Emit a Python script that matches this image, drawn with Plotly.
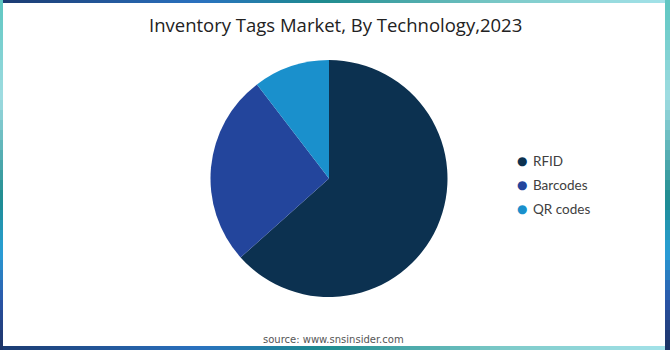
import plotly.graph_objects as go

categories = ["RFID", "Barcodes", "QR codes"]
shares = [63.4, 26.2, 10.4]
colors = ["#0c3150", "#23459c", "#1a90cc"]

title_text = "Inventory Tags Market, By Technology,2023"
source_text = "source: www.snsinsider.com"

W, H = 670, 350

fig = go.Figure()
fig.add_trace(go.Pie(
    labels=categories, values=shares, sort=False, direction="clockwise", rotation=0,
    marker=dict(colors=colors, line=dict(width=0)), textinfo="none", hoverinfo="label+percent",
    showlegend=False,
    domain=dict(x=[210.5 / W, 447.5 / W], y=[(H - 297) / H, (H - 60) / H]),
))


def lerp_color(stops, t):
    for (t0, c0), (t1, c1) in zip(stops[:-1], stops[1:]):
        if t0 <= t <= t1:
            f = (t - t0) / (t1 - t0) if t1 > t0 else 0
            a = [int(c0[i:i + 2], 16) for i in (1, 3, 5)]
            b = [int(c1[i:i + 2], 16) for i in (1, 3, 5)]
            return "rgb(%d,%d,%d)" % tuple(round(a[k] + (b[k] - a[k]) * f) for k in range(3))
    return stops[-1][1]


h_stops = [(0, "#1b3a70"), (0.3, "#2a72c0"), (0.48, "#1d8a8e"), (0.75, "#7ccac8"), (1, "#a5e3ea")]
v_stops = [(0, "#5cc5c0"), (0.28, "#a0dde2"), (0.57, "#1d8a8e"), (0.72, "#2aa0d8"), (0.86, "#2a55a8"), (1, "#1b3060")]

shapes = []
N = 67
for i in range(N):
    x0, x1 = i * W / N, (i + 1) * W / N
    col = lerp_color(h_stops, (i + 0.5) / N)
    shapes.append(dict(type="rect", xref="paper", yref="paper", x0=x0 / W, x1=x1 / W,
                       y0=(H - 3) / H, y1=1, fillcolor=col, line=dict(width=0), layer="below"))
    shapes.append(dict(type="rect", xref="paper", yref="paper", x0=x0 / W, x1=x1 / W,
                       y0=0, y1=4 / H, fillcolor=col, line=dict(width=0), layer="below"))
M = 35
for i in range(M):
    ya, yb = i * H / M, (i + 1) * H / M
    col = lerp_color(v_stops, (i + 0.5) / M)
    shapes.append(dict(type="rect", xref="paper", yref="paper", x0=0, x1=3 / W,
                       y0=1 - yb / H, y1=1 - ya / H, fillcolor=col, line=dict(width=0), layer="below"))
    shapes.append(dict(type="rect", xref="paper", yref="paper", x0=(W - 5) / W, x1=1,
                       y0=1 - yb / H, y1=1 - ya / H, fillcolor=col, line=dict(width=0), layer="below"))

annotations = [
    dict(text=title_text, x=0.5, y=1 - 24 / H, xref="paper", yref="paper", showarrow=False,
         xanchor="center", yanchor="middle",
         font=dict(family="Open Sans, sans-serif", size=18.5, color="#222222")),
    dict(text=source_text, x=333 / W, y=1 - 339 / H, xref="paper", yref="paper", showarrow=False,
         xanchor="center", yanchor="middle",
         font=dict(family="DejaVu Sans, sans-serif", size=10, color="#555555")),
]
# legend drawn as text entries
legend_y0, legend_dy = 161, 24
for i, (c, col) in enumerate(zip(categories, colors)):
    yy = 1 - (legend_y0 + i * legend_dy) / H
    annotations.append(dict(text="●", x=522 / W, y=yy, xref="paper", yref="paper", showarrow=False,
                            xanchor="center", yanchor="middle",
                            font=dict(family="DejaVu Sans, sans-serif", size=12, color=col)))
    annotations.append(dict(text=c, x=531 / W, y=yy, xref="paper", yref="paper", showarrow=False,
                            xanchor="left", yanchor="middle",
                            font=dict(family="Lato, Open Sans, sans-serif", size=13.5, color="#404040")))

fig.update_layout(
    width=W, height=H,
    margin=dict(l=0, r=0, t=0, b=0),
    paper_bgcolor="white", plot_bgcolor="white",
    xaxis=dict(visible=False), yaxis=dict(visible=False),
    shapes=shapes,
    showlegend=False,
    annotations=annotations,
)

fig.write_html("out.html")
